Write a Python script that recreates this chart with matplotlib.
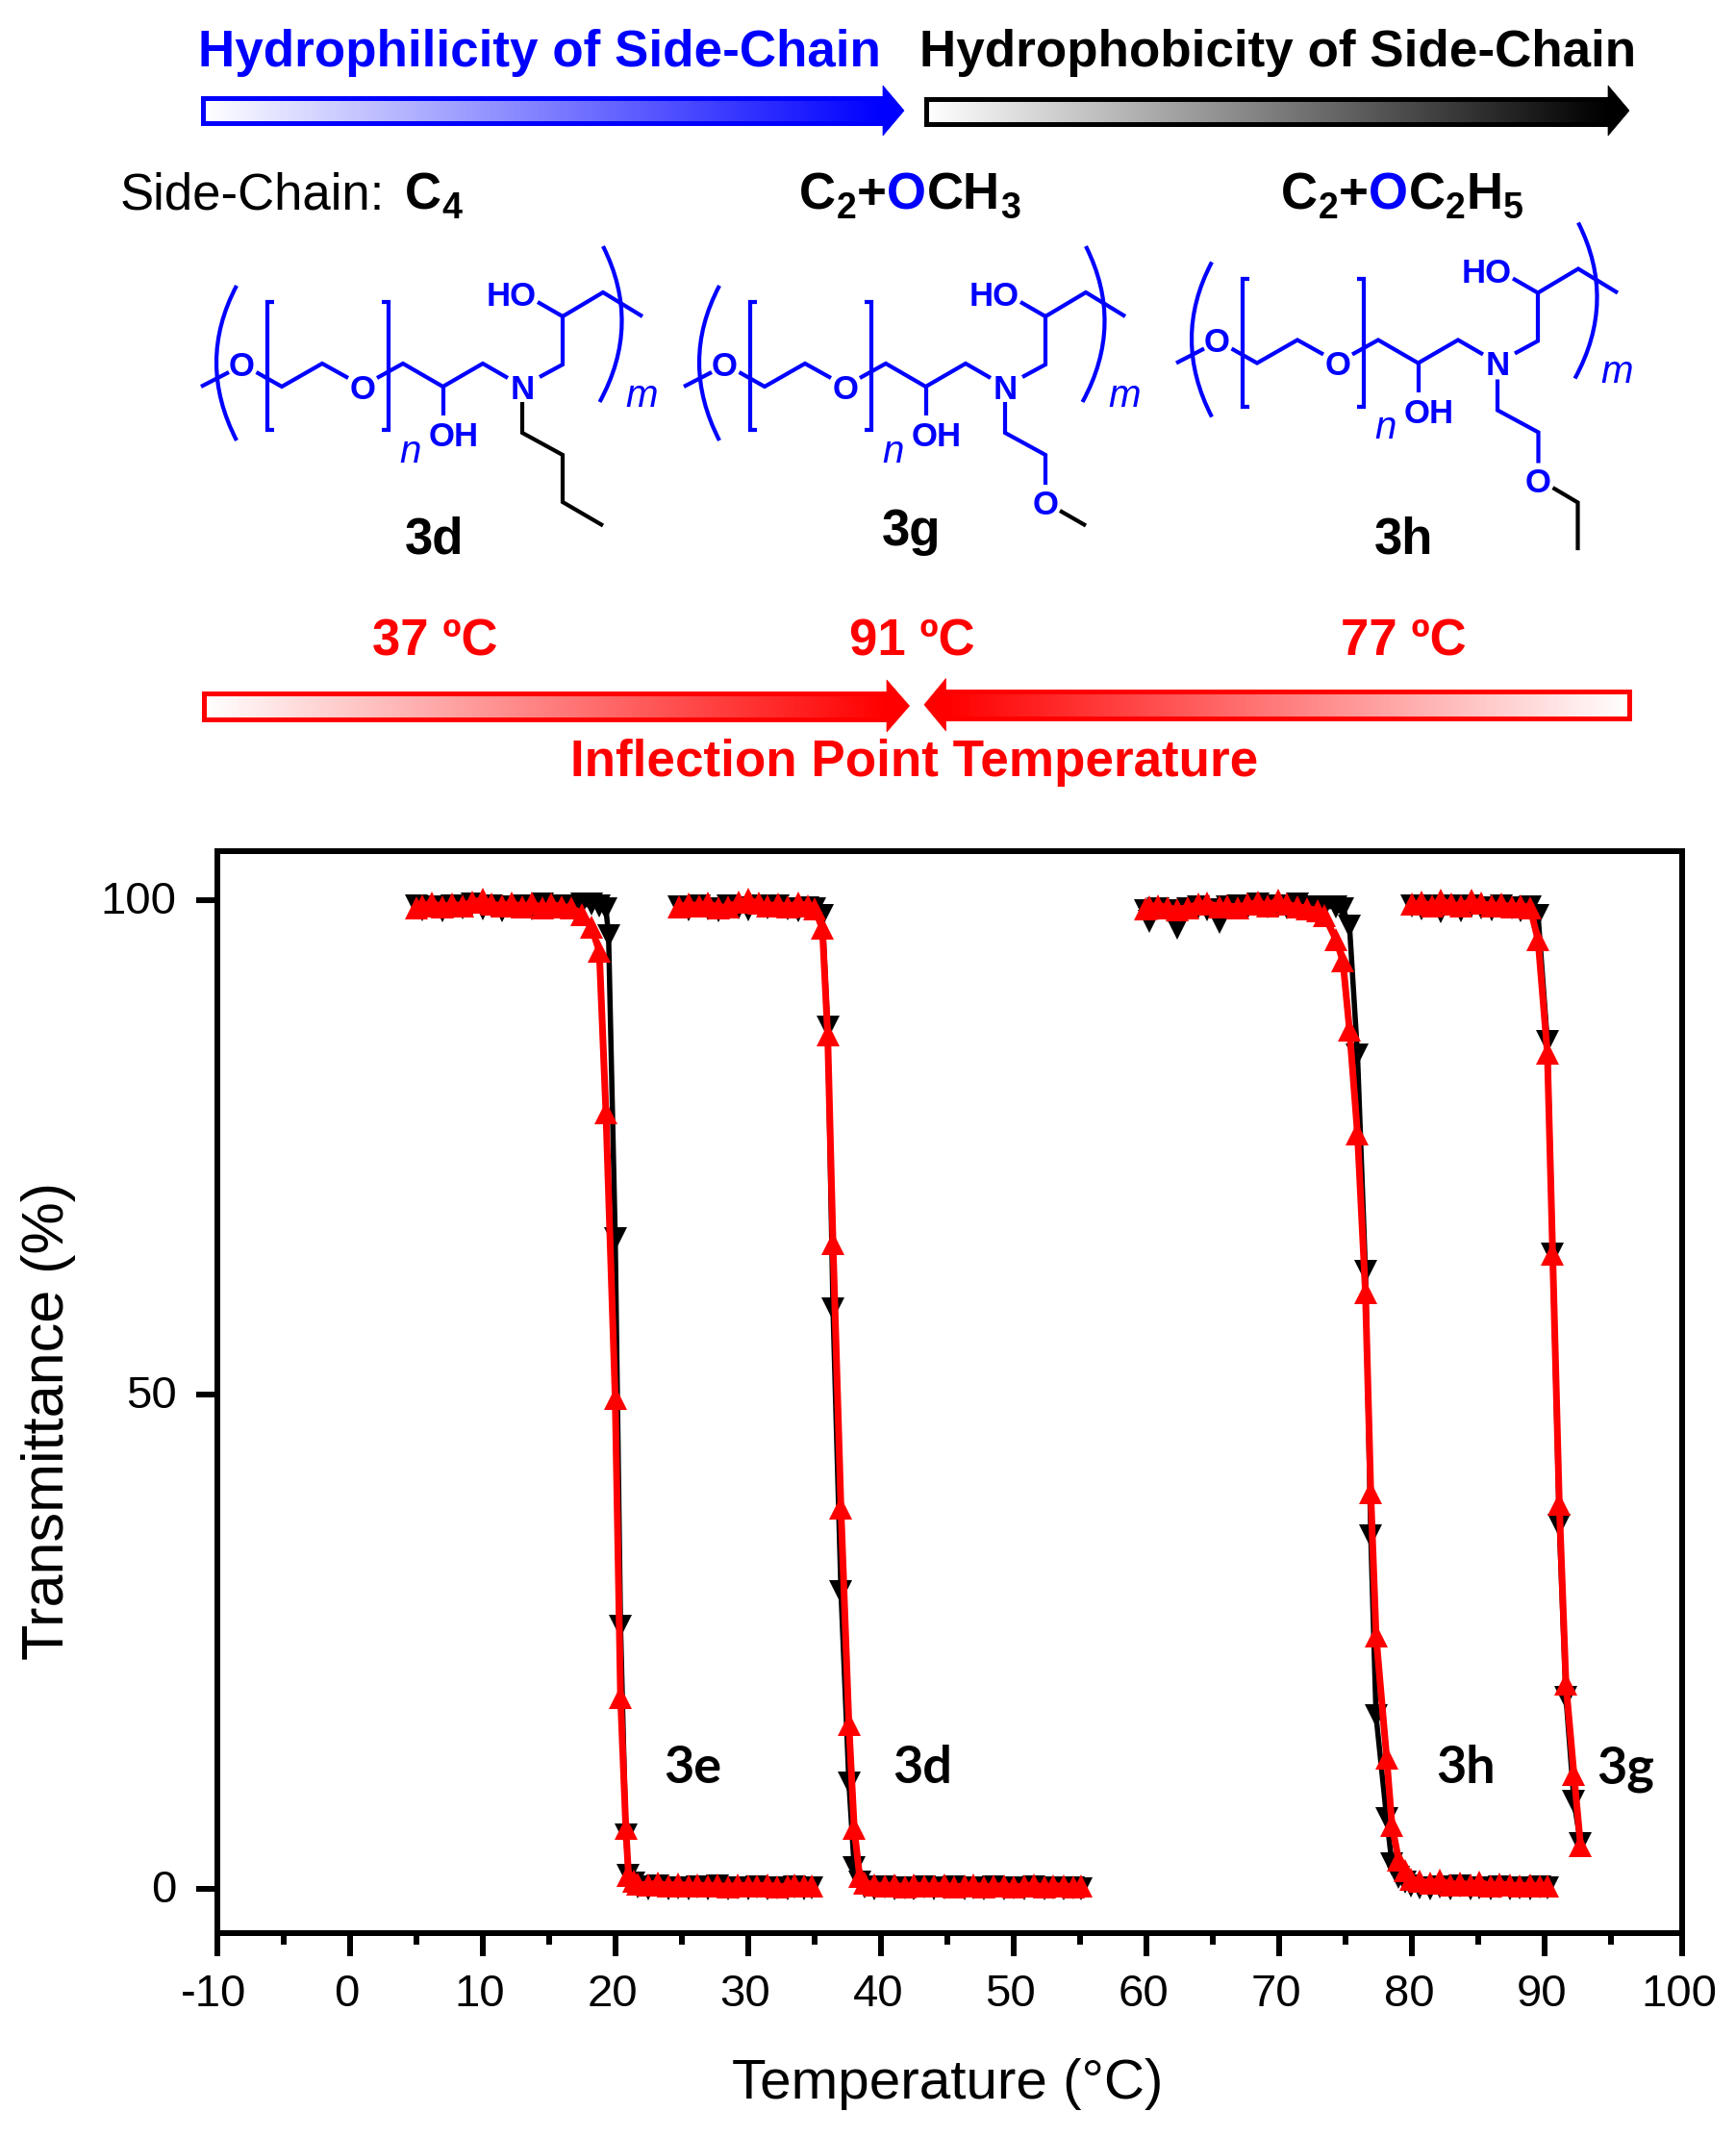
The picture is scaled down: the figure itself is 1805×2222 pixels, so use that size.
import numpy as np
import matplotlib
matplotlib.use("Agg")
import matplotlib.pyplot as plt
from matplotlib.patches import PathPatch, Polygon
from matplotlib.path import Path
from matplotlib.transforms import ScaledTranslation

plt.rcParams["font.family"] = ["Liberation Sans", "DejaVu Sans"]

W, H = 1805, 2222
BLUE = "#0000ff"
RED = "#ff0000"

# values: heating (black) and cooling (red) for each polymer
t_3e_heat = [5.0, 5.5, 6.2, 7.0, 7.7, 8.5, 9.2, 10.0, 10.7, 11.5, 12.2, 13.0, 13.7, 14.5, 15.2, 16.0, 16.7, 17.5,
             18.2, 18.8, 19.3, 19.5, 20.0, 20.4, 20.8, 21.0, 21.4, 21.7, 22.5, 23.2, 24.0, 24.7, 25.5, 26.2,
             27.0, 27.7, 28.5, 29.2, 30.0, 30.7, 31.5, 32.2, 33.0, 33.5, 34.2, 34.8]
y_3e_heat = [99.5, 99.1, 99.4, 99.0, 99.5, 99.3, 99.6, 99.2, 99.5, 99.0, 99.4, 99.5, 99.2, 99.6, 99.3, 99.5, 99.4,
             99.6, 99.6, 99.5, 99.2, 96.4, 65.8, 26.6, 5.4, 1.4, 0.6, 0.2, 0.0, 0.3, 0.0, 0.1, 0.0, 0.2,
             0.0, 0.3, 0.0, 0.1, 0.0, 0.2, 0.0, 0.1, 0.0, 0.2, 0.0, 0.1]
t_3e_cool = [5.0, 5.5, 6.2, 7.0, 7.7, 8.5, 9.2, 10.0, 10.7, 11.5, 12.2, 13.0, 13.7, 14.5, 15.2, 16.0, 16.7, 17.5,
             18.2, 18.8, 19.3, 20.0, 20.4, 20.8, 21.0, 21.4, 21.7, 22.5, 23.2, 24.0, 24.7, 25.5, 26.2,
             27.0, 27.7, 28.5, 29.2, 30.0, 30.7, 31.5, 32.2, 33.0, 33.5, 34.2, 34.8]
y_3e_cool = [99.3, 99.5, 99.7, 99.4, 99.6, 99.5, 99.8, 100.1, 99.6, 99.5, 99.7, 99.4, 99.7, 99.3, 99.6, 99.4, 99.3,
             98.6, 97.3, 94.9, 78.5, 49.6, 19.4, 6.1, 1.4, 0.8, 0.5, 0.4, 0.6, 0.3, 0.5, 0.3, 0.4,
             0.3, 0.4, 0.2, 0.4, 0.3, 0.3, 0.4, 0.2, 0.3, 0.4, 0.3, 0.3]

t_3d = [24.8, 25.5, 26.3, 27.0, 27.8, 28.5, 29.3, 30.0, 30.8, 31.5, 32.3, 33.0, 33.8, 34.5, 35.0, 35.6, 36.0,
        36.4, 37.0, 37.6, 38.0, 38.4, 38.8, 39.5, 40.3, 41.0, 41.8, 42.5, 43.3, 44.0, 44.8, 45.5, 46.3,
        47.0, 47.8, 48.5, 49.3, 50.0, 50.8, 51.5, 52.3, 53.0, 53.8, 54.5, 55.1]
y_3d_heat = [99.4, 99.1, 99.5, 99.2, 99.0, 99.5, 99.3, 99.1, 99.5, 99.3, 99.5, 99.2, 99.0, 99.3, 99.2, 98.5, 87.2,
             58.7, 30.1, 10.7, 2.1, 0.7, 0.2, 0.0, 0.2, 0.0, 0.1, 0.0, 0.2, 0.0, 0.1, 0.2, 0.0,
             0.1, 0.0, 0.2, 0.0, 0.1, 0.0, 0.2, 0.0, 0.1, 0.0, 0.1, 0.0]
y_3d_cool = [99.4, 99.6, 99.5, 99.7, 99.3, 99.4, 99.8, 100.1, 99.7, 99.5, 99.6, 99.4, 99.7, 99.5, 99.2, 97.2, 86.4,
             65.3, 38.5, 16.6, 6.1, 1.3, 0.6, 0.4, 0.3, 0.4, 0.2, 0.4, 0.3, 0.3, 0.4, 0.2, 0.3,
             0.4, 0.2, 0.3, 0.3, 0.2, 0.3, 0.4, 0.2, 0.3, 0.3, 0.2, 0.3]

t_3h = [59.9, 60.2, 60.9, 61.6, 62.3, 63.1, 63.9, 64.6, 65.5, 66.1, 66.9, 67.6, 68.4, 69.1, 69.9, 70.6, 71.4, 72.1,
        72.9, 73.4, 74.3, 74.8, 75.3, 75.9, 76.5, 76.9, 77.3, 78.1, 78.5, 79.0, 79.5, 79.9, 80.6, 81.4,
        82.1, 82.9, 83.6, 84.4, 85.1, 85.9, 86.6, 87.4, 88.1, 88.9, 89.6, 90.2]
y_3h_heat = [99.0, 97.9, 99.2, 99.0, 97.2, 99.2, 99.4, 99.1, 97.8, 99.4, 99.5, 99.3, 99.6, 99.4, 99.5, 99.3, 99.6, 99.4,
             99.3, 99.4, 99.4, 99.2, 97.4, 84.4, 62.5, 35.7, 17.5, 7.1, 2.5, 1.2, 0.7, 0.3, 0.1, 0.0,
             0.2, 0.0, 0.3, 0.0, 0.1, 0.0, 0.2, 0.0, 0.1, 0.0, 0.2, 0.1]
y_3h_cool = [99.2, 99.4, 99.5, 99.3, 99.1, 99.3, 99.6, 99.7, 99.4, 99.5, 99.3, 99.6, 99.8, 99.5, 100.0, 99.6, 99.4, 99.2,
             99.0, 98.5, 96.0, 93.9, 86.9, 76.4, 60.3, 40.1, 25.6, 13.2, 6.4, 2.9, 1.8, 1.0, 0.8, 0.6,
             0.9, 0.4, 0.6, 0.4, 0.7, 0.3, 0.5, 0.4, 0.3, 0.4, 0.3, 0.3]

t_3g = [80.0, 80.7, 81.5, 82.2, 83.0, 83.7, 84.5, 85.2, 86.0, 86.7, 87.5, 88.2, 88.9, 89.5, 90.2, 90.6, 91.1,
        91.6, 92.2, 92.7]
y_3g_heat = [99.5, 99.2, 99.5, 98.9, 99.5, 99.0, 99.5, 99.3, 99.1, 99.5, 99.3, 99.0, 99.4, 98.5, 85.7, 64.2, 36.8,
             19.4, 8.9, 4.6]
y_3g_cool = [99.6, 99.8, 99.5, 100.0, 99.6, 99.5, 100.0, 99.7, 99.5, 99.6, 99.4, 99.5, 99.3, 96.0, 84.6, 64.2, 38.9,
             20.7, 11.6, 4.4]

heating = [(t_3e_heat, y_3e_heat), (t_3d, y_3d_heat), (t_3h, y_3h_heat), (t_3g, y_3g_heat)]
cooling = [(t_3e_cool, y_3e_cool), (t_3d, y_3d_cool), (t_3h, y_3h_cool), (t_3g, y_3g_cool)]

# the right end of the x axis sits a little past the regular tick spacing in the source figure
x_right = 100.35
x_ticks = [-10, 0, 10, 20, 30, 40, 50, 60, 70, 80, 90, x_right]
x_labels = ["-10", "0", "10", "20", "30", "40", "50", "60", "70", "80", "90", "100"]
x_minor = [-5, 5, 15, 25, 35, 45, 55, 65, 75, 85, 95]
y_ticks = [0, 50, 100]
curve_names = ["3e", "3d", "3h", "3g"]
curve_label_x = [720, 959, 1524, 1690]


def pt(px):
    return px * 0.72


fig = plt.figure(figsize=(W / 100, H / 100), dpi=100)
fig.patch.set_facecolor("white")

ax_left, ax_right, ax_top, ax_bottom = 225.5, 1749, 885, 2009.7
ax = fig.add_axes([ax_left / W, 1 - ax_bottom / H, (ax_right - ax_left) / W, (ax_bottom - ax_top) / H])
for t, y in heating:
    ax.plot(t, y, color="black", lw=pt(5.5), marker="v", ms=pt(24), mew=0)
for t, y in cooling:
    ax.plot(t, y, color=RED, lw=pt(7), marker="^", ms=pt(24), mew=0)

ax.set_xlim(-10, x_right)
ax.set_ylim(-4.45, 105)
ax.set_xticks(x_ticks)
ax.set_xticklabels(x_labels)
ax.set_xticks(x_minor, minor=True)
ax.set_yticks(y_ticks)
ax.tick_params(axis="x", which="major", length=pt(24), width=pt(6), labelsize=34, pad=pt(18))
ax.tick_params(axis="x", which="minor", length=pt(12), width=pt(6))
ax.tick_params(axis="y", which="major", length=pt(22), width=pt(6), labelsize=34, pad=pt(20))
for spine in ax.spines.values():
    spine.set_linewidth(pt(6))
ax.set_xlabel("Temperature (°C)", fontsize=42)
ax.set_ylabel("Transmittance (%)", fontsize=44)
ax.xaxis.set_label_coords((985 - ax_left) / (ax_right - ax_left), (ax_bottom - 2140) / (ax_bottom - ax_top))
ax.yaxis.set_label_coords((79 - ax_left) / (ax_right - ax_left), (ax_bottom - 1478) / (ax_bottom - ax_top))

# tick labels sit a touch off their ticks in the source figure
for label in ax.get_xticklabels():
    label.set_transform(label.get_transform() + ScaledTranslation(pt(-3) / 72, 0, fig.dpi_scale_trans))
for label in ax.get_yticklabels():
    label.set_transform(label.get_transform() + ScaledTranslation(0, pt(3) / 72, fig.dpi_scale_trans))

# overlay in pixel coordinates for the scheme above the chart
ov = fig.add_axes([0, 0, 1, 1], facecolor="none")
ov.axis("off")

for name, x in zip(curve_names, curve_label_x):
    ov.text(x, 1854, name, fontsize=39, fontweight="bold", family="Lato", ha="center", va="baseline")


def gradient_arrow(bar_x0, bar_x1, tip_x, bar_y0, bar_y1, head_y0, head_y1, color):
    # bar fades from white at bar_x0 to the full colour at the head
    rgb = np.array(matplotlib.colors.to_rgb(color))
    fade = np.linspace(0, 1, 256)[None, :, None]
    img = 1 - fade * (1 - rgb[None, None, :])
    ov.imshow(img, extent=[bar_x0, bar_x1, bar_y1, bar_y0], aspect="auto", zorder=1)
    ov.add_patch(Polygon([(bar_x0, bar_y0), (bar_x1, bar_y0), (bar_x1, bar_y1), (bar_x0, bar_y1)], closed=True,
                         fill=False, edgecolor=color, lw=pt(5), zorder=2))
    mid = (head_y0 + head_y1) / 2
    ov.add_patch(Polygon([(bar_x1, head_y0), (tip_x, mid), (bar_x1, head_y1), (bar_x1, mid)], closed=True,
                         facecolor=color, edgecolor=color, lw=0.5, zorder=2))


gradient_arrow(211, 918, 940, 102, 128, 89, 141, BLUE)
gradient_arrow(963, 1672, 1694, 103, 129, 89, 141, "black")
gradient_arrow(212, 922, 945.5, 721, 748, 707, 761, RED)
gradient_arrow(1694, 983.5, 961, 719, 747, 705.5, 760, RED)
ov.set_xlim(0, W)
ov.set_ylim(H, 0)

ov.text(206, 69, "Hydrophilicity of Side-Chain", color=BLUE, fontsize=38.15, fontweight="bold", va="baseline")
ov.text(955.5, 69, "Hydrophobicity of Side-Chain", color="black", fontsize=38.15, fontweight="bold", va="baseline")
ov.text(452, 681, "37 ºC", color=RED, fontsize=38, fontweight="bold", ha="center", va="baseline")
ov.text(948, 681, "91 ºC", color=RED, fontsize=38, fontweight="bold", ha="center", va="baseline")
ov.text(1459, 681, "77 ºC", color=RED, fontsize=38, fontweight="bold", ha="center", va="baseline")
ov.text(951, 807, "Inflection Point Temperature", color=RED, fontsize=38.15, fontweight="bold", ha="center",
        va="baseline")


def text_runs(x, y, runs):
    # pieces set one after another on a baseline; sub=True drops and shrinks the piece
    renderer = fig.canvas.get_renderer()
    for s, color, weight, sub in runs:
        t = ov.text(x, y + (10 if sub else 0), s, color=color, fontweight=weight, fontsize=27 if sub else 38,
                    va="baseline", ha="left")
        x += t.get_window_extent(renderer).width + 0.5


text_runs(125, 217, [("Side-Chain:", "black", "normal", False)])
text_runs(421, 217, [("C", "black", "bold", False), ("4", "black", "bold", True)])
text_runs(831, 217, [("C", "black", "bold", False), ("2", "black", "bold", True), ("+", "black", "bold", False),
                     ("O", BLUE, "bold", False), ("CH", "black", "bold", False), ("3", "black", "bold", True)])
text_runs(1332, 217, [("C", "black", "bold", False), ("2", "black", "bold", True), ("+", "black", "bold", False),
                      ("O", BLUE, "bold", False), ("C", "black", "bold", False), ("2", "black", "bold", True),
                      ("H", "black", "bold", False), ("5", "black", "bold", True)])

# scheme line work, positions in the frame of structure 3d
backbone = [
    [(209, 402), (238, 387)],
    [(266.5, 387), (293, 402), (335, 378), (362, 393)],
    [(392, 393), (419, 378), (460.5, 402), (502, 378), (528, 393)],
    [(561, 392), (585, 379), (585, 329), (627, 304), (668, 329)],
    [(585, 329), (559, 314)],
    [(460.5, 402), (460.5, 432)],
    [(285, 314), (278, 314), (278, 447), (285, 447)],
    [(397, 314), (404, 314), (404, 447), (397, 447)],
]
atoms = [("O", 251, 378), ("O", 377, 402), ("N", 543, 402), ("HO", 532, 305), ("OH", 472, 451)]
tail_3d_black = [(543, 418), (543, 450), (585, 473), (585, 522), (627, 546.5)]
tail_3g_blue = [(543, 418), (543, 450), (585, 473), (585, 504)]
tail_3g_black = [(600, 531), (627, 546.5)]
tail_3h_blue = [(543, 419), (543, 451), (585.5, 474), (585.5, 506)]
tail_3h_black = [(600.5, 531.6), (626.5, 547), (626.5, 596.6)]


def poly(points, color, dx, dy):
    xs = [p[0] + dx for p in points]
    ys = [p[1] + dy for p in points]
    ov.plot(xs, ys, color=color, lw=pt(4.2), solid_joinstyle="miter", solid_capstyle="butt")


def paren(p0, mid, p2, dx, dy):
    ctrl = (2 * mid[0] - (p0[0] + p2[0]) / 2, 2 * mid[1] - (p0[1] + p2[1]) / 2)
    path = Path([(p0[0] + dx, p0[1] + dy), (ctrl[0] + dx, ctrl[1] + dy), (p2[0] + dx, p2[1] + dy)],
                [Path.MOVETO, Path.CURVE3, Path.CURVE3])
    ov.add_patch(PathPatch(path, fill=False, edgecolor=BLUE, lw=pt(4.2)))


def structure(dx, dy, tail_blue, tail_black, tail_o):
    for line in backbone:
        poly(line, BLUE, dx, dy)
    paren((246, 297), (225, 377), (246, 458), dx, dy)
    paren((627, 256), (646.5, 337), (623.5, 418), dx, dy)
    for s, x, y in atoms:
        ov.text(x + dx, y + dy, s, color=BLUE, fontsize=25, fontweight="bold", ha="center", va="center_baseline")
    ov.text(427 + dx, 466 + dy, "n", color=BLUE, fontsize=29, fontstyle="italic", ha="center", va="center_baseline")
    ov.text(667 + dx, 408 + dy, "m", color=BLUE, fontsize=29, fontstyle="italic", ha="center", va="center_baseline")
    if tail_blue:
        poly(tail_blue, BLUE, dx, dy)
    poly(tail_black, "black", dx, dy)
    if tail_o:
        ov.text(tail_o[0] + dx, tail_o[1] + dy, "O", color=BLUE, fontsize=25, fontweight="bold", ha="center",
                va="center_baseline")


structure(0, 0, None, tail_3d_black, None)
structure(502, 0, tail_3g_blue, tail_3g_black, (585, 522))
structure(1014, -24.5, tail_3h_blue, tail_3h_black, (585.5, 524))

ov.text(452, 575, "3d", fontsize=38, fontweight="bold", ha="center", va="baseline")
ov.text(948, 567, "3g", fontsize=38, fontweight="bold", ha="center", va="baseline")
ov.text(1460, 575, "3h", fontsize=38, fontweight="bold", ha="center", va="baseline")

fig.savefig("out.png", dpi=100, facecolor="white")
